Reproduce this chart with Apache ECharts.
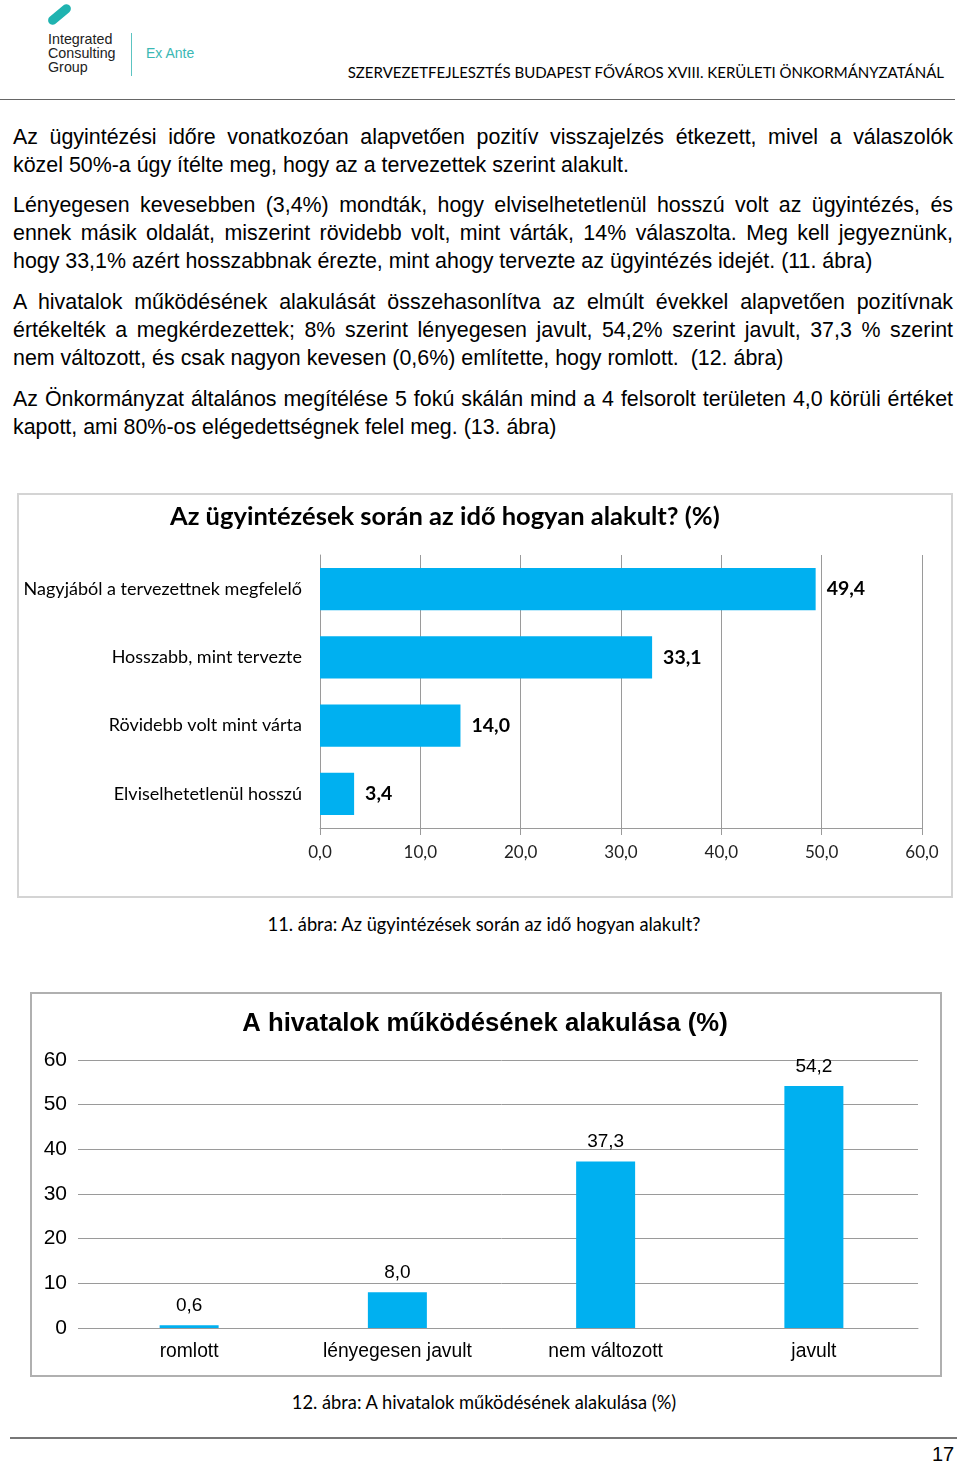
<!DOCTYPE html>
<html>
<head>
<meta charset="utf-8">
<script src="https://cdn.jsdelivr.net/npm/echarts@6/dist/echarts.min.js"></script>
<style>
  body { margin: 0; width: 960px; height: 1466px; background: #fff; position: relative; overflow: hidden; }
  .abs { position: absolute; }
  .ln { position: absolute; left: 13px; width: 940px; height: 28px; line-height: 28px;
        font-family: 'Liberation Sans', Arial, sans-serif; font-size: 21.4px; color: #000; white-space: nowrap; }
  .j { text-align: justify; text-align-last: justify; white-space: normal; }
  .cap { position: absolute; left: 0; width: 968px; text-align: center; font-family: Lato, sans-serif; font-size: 18.3px; color: #000; }
</style>
</head>
<body>
<!-- fejléc / logó -->
<div class="abs" style="width:27px;height:9px;border-radius:5px;background:#1fb3b0;transform:rotate(-40deg);left:46px;top:10px;"></div>
<div class="abs" style="left:48px;top:32px;font-family:'Liberation Sans',sans-serif;font-size:14.3px;line-height:14px;color:#222;">Integrated<br>Consulting<br>Group</div>
<div class="abs" style="left:131px;top:33px;width:1px;height:43px;background:#5cc4c2;"></div>
<div class="abs" style="left:146px;top:45px;font-family:'Liberation Sans',sans-serif;font-size:14px;color:#3bb8b4;">Ex Ante</div>
<div class="abs" style="right:16px;top:63px;font-family:Lato,sans-serif;font-size:15px;color:#000;">SZERVEZETFEJLESZTÉS BUDAPEST FŐVÁROS XVIII. KERÜLETI ÖNKORMÁNYZATÁNÁL</div>
<div class="abs" style="left:0;top:99px;width:955px;height:1px;background:#666;"></div>

<!-- szöveg -->
<div class="ln j" style="top:123px;">Az ügyintézési időre vonatkozóan alapvetően pozitív visszajelzés étkezett, mivel a válaszolók</div>
<div class="ln" style="top:151px;">közel 50%-a úgy ítélte meg, hogy az a tervezettek szerint alakult.</div>
<div class="ln j" style="top:191px;">Lényegesen kevesebben (3,4%) mondták, hogy elviselhetetlenül hosszú volt az ügyintézés, és</div>
<div class="ln j" style="top:219px;">ennek másik oldalát, miszerint rövidebb volt, mint várták, 14% válaszolta. Meg kell jegyeznünk,</div>
<div class="ln" style="top:247px;">hogy 33,1% azért hosszabbnak érezte, mint ahogy tervezte az ügyintézés idejét. (11. ábra)</div>
<div class="ln j" style="top:288px;">A hivatalok működésének alakulását összehasonlítva az elmúlt évekkel alapvetően pozitívnak</div>
<div class="ln j" style="top:316px;">értékelték a megkérdezettek; 8% szerint lényegesen javult, 54,2% szerint javult, 37,3 % szerint</div>
<div class="ln" style="top:344px;">nem változott, és csak nagyon kevesen (0,6%) említette, hogy romlott.&nbsp; (12. ábra)</div>
<div class="ln j" style="top:385px;">Az Önkormányzat általános megítélése 5 fokú skálán mind a 4 felsorolt területen 4,0 körüli értéket</div>
<div class="ln" style="top:413px;">kapott, ami 80%-os elégedettségnek felel meg. (13. ábra)</div>

<!-- 11. ábra -->
<div class="abs" style="left:17px;top:493px;width:932px;height:401px;border:2px solid #d4d4d4;"></div>
<div id="chart1" class="abs" style="left:18px;top:494px;width:934px;height:403px;"></div>
<div class="cap" style="top:913px;">11. ábra: Az ügyintézések során az idő hogyan alakult?</div>

<!-- 12. ábra -->
<div class="abs" style="left:30px;top:992px;width:908px;height:381px;border:2px solid #b0b0b0;"></div>
<div id="chart2" class="abs" style="left:30px;top:993px;width:910px;height:382px;"></div>
<div class="cap" style="top:1391px;">12. ábra: A hivatalok működésének alakulása (%)</div>

<!-- lábléc -->
<div class="abs" style="left:10px;top:1437px;width:947px;height:2px;background:#777;"></div>
<div class="abs" style="left:932px;top:1443px;font-family:'Liberation Sans Narrow','Liberation Sans',sans-serif;font-size:20px;color:#000;">17</div>

<script>
// 11. ábra adatai (fentről lefelé)
const timeCategories = ['Nagyjából a tervezettnek megfelelő', 'Hosszabb, mint tervezte', 'Rövidebb volt mint várta', 'Elviselhetetlenül hosszú']
const timeValues = [49.4, 33.1, 14.0, 3.4]

// 12. ábra adatai
const officeCategories = ['romlott', 'lényegesen javult', 'nem változott', 'javult']
const officeValues = [0.6, 8.0, 37.3, 54.2]

const BLUE = '#00b0f0'
const GRID = '#9a9a9a'

function fmt1(v) {
  return Number(v).toFixed(1).replace('.', ',')
}

// vízszintes oszlopdiagram
const chart1 = echarts.init(document.getElementById('chart1'))
chart1.setOption({
  animation: false,
  title: {
    text: 'Az ügyintézések során az idő hogyan alakult? (%)',
    left: 147, top: 5,
    textStyle: { fontFamily: 'Lato', fontSize: 25.5, fontWeight: 'bold', color: '#000' }
  },
  grid: { left: 302, right: 30, top: 61, bottom: 69 },
  xAxis: {
    type: 'value', min: 0, max: 60, interval: 10,
    axisLine: { show: true, lineStyle: { color: GRID } },
    axisTick: { show: true, length: 7, lineStyle: { color: GRID } },
    splitLine: { lineStyle: { color: GRID } },
    axisLabel: { formatter: fmt1, fontFamily: 'Lato', fontSize: 17, color: '#222', margin: 16 }
  },
  yAxis: {
    type: 'category', inverse: true, data: timeCategories,
    axisLine: { lineStyle: { color: GRID } },
    axisTick: { length: 5, lineStyle: { color: GRID } },
    axisLabel: { fontFamily: 'Lato', fontSize: 18, color: '#000', margin: 18 }
  },
  series: [{
    type: 'bar', data: timeValues, barWidth: '62%',
    itemStyle: { color: BLUE },
    label: {
      show: true, position: 'right', distance: 11,
      formatter: p => fmt1(p.value),
      fontFamily: 'Lato', fontSize: 19.5, fontWeight: 'bold', color: '#000'
    }
  }]
})

// függőleges oszlopdiagram
const chart2 = echarts.init(document.getElementById('chart2'))
chart2.setOption({
  animation: false,
  title: {
    text: 'A hivatalok működésének alakulása (%)',
    left: 'center', top: 13,
    textStyle: { fontFamily: 'Liberation Sans', fontSize: 25.7, fontWeight: 'bold', color: '#000' }
  },
  grid: { left: 55, right: 22, top: 67, bottom: 47 },
  xAxis: {
    type: 'category', data: officeCategories,
    axisLine: { lineStyle: { color: GRID } },
    axisTick: { length: 5, lineStyle: { color: GRID } },
    axisLabel: { fontFamily: 'Liberation Sans', fontSize: 19.3, color: '#000', margin: 14 }
  },
  yAxis: {
    type: 'value', min: 0, max: 60, interval: 10,
    axisLine: { show: false },
    axisTick: { show: true, length: 7, lineStyle: { color: GRID } },
    splitLine: { lineStyle: { color: GRID } },
    axisLabel: { fontFamily: 'Liberation Sans', fontSize: 21, color: '#000', margin: 18 }
  },
  series: [{
    type: 'bar', data: officeValues, barWidth: 59,
    itemStyle: { color: BLUE },
    label: {
      show: true, position: 'top', distance: 10,
      formatter: p => fmt1(p.value),
      fontFamily: 'Liberation Sans', fontSize: 19, color: '#000'
    }
  }]
})
</script>
</body>
</html>
